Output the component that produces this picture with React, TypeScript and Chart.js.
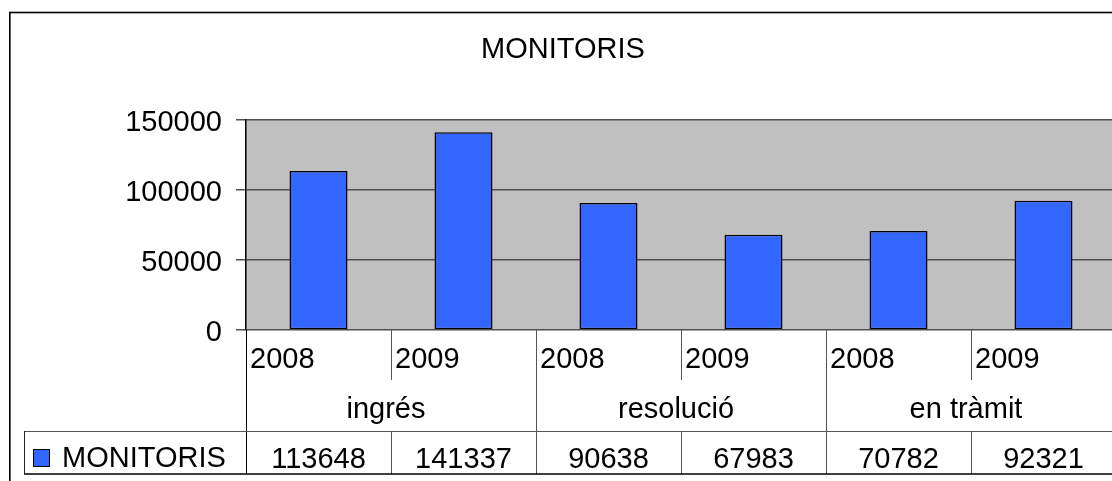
import React, { useEffect, useRef } from "react";
import { Chart, registerables } from "chart.js";

Chart.register(...registerables);

const FONT = '"Liberation Sans", Arial, Helvetica, sans-serif';
const FSIZE = 29;

const categories = ["2008", "2009", "2008", "2009", "2008", "2009"];
const groups = ["ingrés", "resolució", "en tràmit"];
const values = [113648, 141337, 90638, 67983, 70782, 92321];
const seriesName = "MONITORIS";
const titleText = "MONITORIS";
const yTickValues = [0, 50000, 100000, 150000];

const BAR_COLOR = "#3366FF";
const PLOT_BG = "#C0C0C0";

const plotBgPlugin = {
  id: "plotBg",
  beforeDraw(chart: any) {
    const { ctx, chartArea } = chart;
    ctx.save();
    ctx.fillStyle = "#ffffff";
    ctx.fillRect(0, 0, chart.width, chart.height);
    ctx.fillStyle = PLOT_BG;
    ctx.fillRect(
      chartArea.left,
      chartArea.top,
      chartArea.right - chartArea.left,
      chartArea.bottom - chartArea.top
    );
    // outer chart border
    ctx.strokeStyle = "#000";
    ctx.lineWidth = 1.6;
    ctx.strokeRect(9.8, 12.5, 1400, 700);
    // title
    ctx.fillStyle = "#000";
    ctx.font = `${FSIZE}px ${FONT}`;
    ctx.textAlign = "center";
    ctx.textBaseline = "alphabetic";
    ctx.fillText(titleText, 563, 58);
    ctx.restore();
  },
};

const tablePlugin = {
  id: "dataTable",
  afterDraw(chart: any) {
    const { ctx, chartArea } = chart;
    const xs = chart.scales.x;
    const n = categories.length;
    const step = xs.getPixelForValue(1) - xs.getPixelForValue(0);
    const edge = (i: number) => xs.getPixelForValue(0) - step / 2 + i * step;
    const top = chartArea.bottom;
    const yearBottom = top + 50;
    const groupBottom = top + 101;
    const tableBottom = top + 144;
    const legendLeft = 24;

    ctx.save();
    ctx.lineWidth = 1;
    // verticals
    for (let i = 0; i <= n; i++) {
      const xe = Math.round(edge(i)) + 0.5;
      ctx.strokeStyle = i === 0 ? "#000" : "#555";
      ctx.beginPath();
      if (i % 2 === 0) {
        ctx.moveTo(xe, top);
        ctx.lineTo(xe, tableBottom);
      } else {
        ctx.moveTo(xe, top);
        ctx.lineTo(xe, yearBottom);
        ctx.moveTo(xe, groupBottom);
        ctx.lineTo(xe, tableBottom);
      }
      ctx.stroke();
    }
    // horizontals
    ctx.strokeStyle = "#555";
    ctx.beginPath();
    ctx.moveTo(legendLeft, groupBottom + 0.5);
    ctx.lineTo(edge(n), groupBottom + 0.5);
    ctx.stroke();
    ctx.strokeStyle = "#000";
    ctx.lineWidth = 1.5;
    ctx.beginPath();
    ctx.moveTo(legendLeft, tableBottom);
    ctx.lineTo(edge(n), tableBottom);
    ctx.stroke();
    ctx.lineWidth = 1;
    ctx.strokeStyle = "#222";
    ctx.beginPath();
    ctx.moveTo(legendLeft + 0.5, groupBottom);
    ctx.lineTo(legendLeft + 0.5, tableBottom);
    ctx.stroke();

    // texts
    ctx.fillStyle = "#000";
    ctx.font = `${FSIZE}px ${FONT}`;
    ctx.textBaseline = "alphabetic";
    ctx.textAlign = "left";
    categories.forEach((c, i) => {
      ctx.fillText(c, edge(i) + 4, top + 38);
    });
    ctx.textAlign = "center";
    groups.forEach((g, gi) => {
      const cx = (edge(gi * 2) + edge(gi * 2 + 2)) / 2 - 5;
      ctx.fillText(g, cx, top + 88);
    });
    values.forEach((v, i) => {
      ctx.fillText(String(v), xs.getPixelForValue(i), top + 138);
    });
    // legend key
    ctx.fillStyle = BAR_COLOR;
    ctx.fillRect(33, top + 119, 17, 18);
    ctx.strokeStyle = "#000";
    ctx.strokeRect(33.5, top + 119.5, 16, 17);
    ctx.fillStyle = "#000";
    ctx.textAlign = "left";
    ctx.fillText(seriesName, 62, top + 137);
    ctx.restore();
  },
};

export default function App() {
  const ref = useRef<HTMLCanvasElement | null>(null);

  useEffect(() => {
    if (!ref.current) return;
    const W = 1200;
    const H = 520;
    const chart = new Chart(ref.current, {
      type: "bar",
      data: {
        labels: categories,
        datasets: [
          {
            label: seriesName,
            data: values,
            backgroundColor: BAR_COLOR,
            borderColor: "#000",
            borderWidth: 1.5,
            borderSkipped: false,
            barPercentage: 0.4,
            categoryPercentage: 1,
          },
        ],
      },
      options: {
        animation: false,
        responsive: false,
        devicePixelRatio: 1,
        layout: {
          padding: { left: 0, top: 120, right: W - 1116, bottom: H - 330 },
        },
        plugins: {
          legend: { display: false },
          title: { display: false },
          tooltip: { enabled: false },
        },
        scales: {
          x: { display: false },
          y: {
            min: 0,
            max: 150000,
            afterFit(scale: any) {
              scale.width = 246;
            },
            afterBuildTicks(scale: any) {
              scale.ticks = yTickValues.map((v) => ({ value: v }));
            },
            ticks: {
              color: "#000",
              font: { family: FONT, size: FSIZE },
              padding: 14,
              labelOffset: 3,
              callback: (v: any) => String(v),
            },
            grid: {
              color: "#505050",
              lineWidth: 1.5,
              tickLength: 10,
              tickColor: "#505050",
            },
            border: { display: true, color: "#000", width: 1.5 },
          },
        },
      },
      plugins: [plotBgPlugin, tablePlugin],
    });
    return () => chart.destroy();
  }, []);

  return (
    <div
      style={{
        position: "absolute",
        left: 0,
        top: 0,
        width: 1112,
        height: 481,
        overflow: "hidden",
        background: "#fff",
      }}
    >
      <canvas ref={ref} width={1200} height={520} style={{ display: "block" }} />
    </div>
  );
}
